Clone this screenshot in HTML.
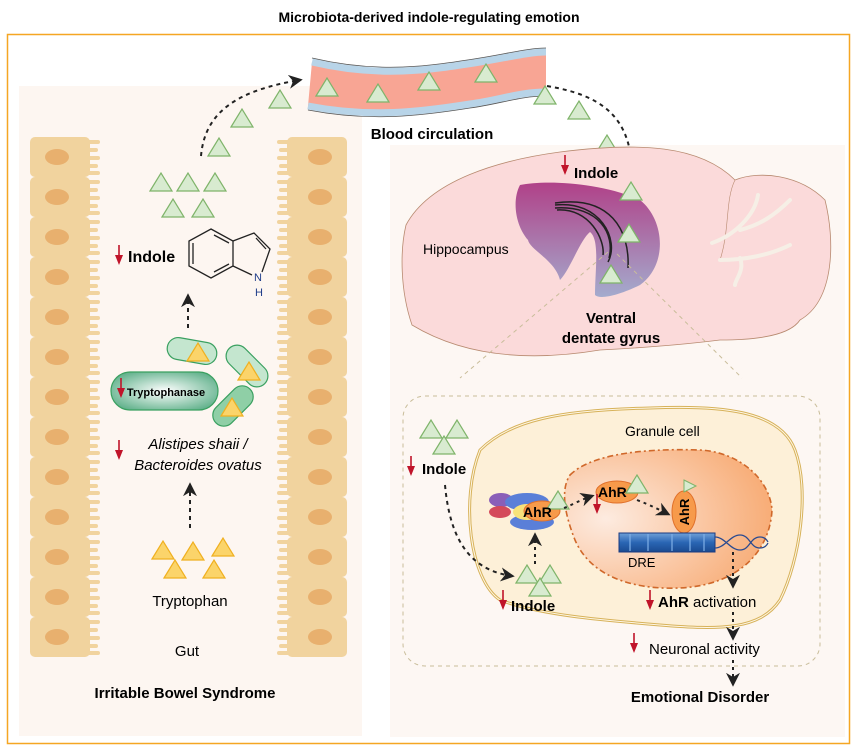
<!DOCTYPE html>
<html><head><meta charset="utf-8"><style>
html,body{margin:0;padding:0;background:#fff}
svg{display:block}
text{font-family:"Liberation Sans",Arial,sans-serif}
</style></head><body>
<svg width="858" height="751" viewBox="0 0 858 751" xmlns="http://www.w3.org/2000/svg">
<defs>
<symbol id="gt" overflow="visible"><path d="M0,18 L11,0 L22,18 Z" fill="#d8ebd0" stroke="#7fb46a" stroke-width="1.2"/></symbol>
<symbol id="yt" overflow="visible"><path d="M0,18 L11,0 L22,18 Z" fill="#fbd46a" stroke="#f0b020" stroke-width="1.2"/></symbol>
<symbol id="cell" overflow="visible">
<rect x="0" y="0" width="60" height="40" rx="5" fill="#f1d39e"/>
<rect x="56" y="3" width="14" height="4" rx="2" fill="#f1d39e"/>
<rect x="56" y="11" width="12" height="4" rx="2" fill="#f1d39e"/>
<rect x="56" y="19" width="14" height="4" rx="2" fill="#f1d39e"/>
<rect x="56" y="27" width="12" height="4" rx="2" fill="#f1d39e"/>
<rect x="56" y="34" width="14" height="4" rx="2" fill="#f1d39e"/>
<ellipse cx="27" cy="20" rx="12" ry="8" fill="#e8b06e"/>
</symbol>
<marker id="ar" viewBox="0 0 10 10" refX="8" refY="5" markerWidth="7" markerHeight="7" orient="auto"><path d="M0,0 L10,5 L0,10 L3,5 Z" fill="#222"/></marker>
<symbol id="dn" overflow="visible"><line x1="0" y1="0" x2="0" y2="16" stroke="#c0142a" stroke-width="1.6"/><path d="M-4,10 L0,20 L4,10 Z" fill="#c0142a"/></symbol>
<linearGradient id="hip" x1="0" y1="0" x2="0" y2="1"><stop offset="0" stop-color="#a8307f"/><stop offset="1" stop-color="#9aa6cc"/></linearGradient>
<radialGradient id="nuc" cx="0.2" cy="0.5" r="0.9"><stop offset="0" stop-color="#fdebe0"/><stop offset="1" stop-color="#f7a56a"/></radialGradient>
<radialGradient id="tp" cx="0.5" cy="0.5" r="0.6"><stop offset="0" stop-color="#ffffff"/><stop offset="1" stop-color="#5fb08a"/></radialGradient>
<linearGradient id="dre" x1="0" y1="0" x2="0" y2="1"><stop offset="0" stop-color="#6fa0d8"/><stop offset="0.5" stop-color="#2a66b4"/><stop offset="1" stop-color="#1a4a90"/></linearGradient>
</defs>

<text x="429" y="22" text-anchor="middle" font-size="14" font-weight="bold">Microbiota-derived indole-regulating emotion</text>
<rect x="7.5" y="34.5" width="842" height="709" fill="#fff" stroke="#f5a623" stroke-width="1.5"/>
<rect x="19" y="86" width="343" height="650" fill="#fdf6f1"/>
<rect x="390" y="145" width="455" height="592" fill="#fdf7f3"/>

<!-- gut columns -->
<g>
<use href="#cell" x="30" y="137"/><use href="#cell" x="30" y="177"/><use href="#cell" x="30" y="217"/><use href="#cell" x="30" y="257"/><use href="#cell" x="30" y="297"/><use href="#cell" x="30" y="337"/><use href="#cell" x="30" y="377"/><use href="#cell" x="30" y="417"/><use href="#cell" x="30" y="457"/><use href="#cell" x="30" y="497"/><use href="#cell" x="30" y="537"/><use href="#cell" x="30" y="577"/><use href="#cell" x="30" y="617"/>
</g>
<g transform="translate(347,0) scale(-1,1)">
<use href="#cell" x="0" y="137"/><use href="#cell" x="0" y="177"/><use href="#cell" x="0" y="217"/><use href="#cell" x="0" y="257"/><use href="#cell" x="0" y="297"/><use href="#cell" x="0" y="337"/><use href="#cell" x="0" y="377"/><use href="#cell" x="0" y="417"/><use href="#cell" x="0" y="457"/><use href="#cell" x="0" y="497"/><use href="#cell" x="0" y="537"/><use href="#cell" x="0" y="577"/><use href="#cell" x="0" y="617"/>
</g>

<!-- vessel -->
<path d="M312,62 C380,78 430,70 480,62 C510,57 530,52 546,52 L546,92 C520,92 500,100 470,104 C420,112 370,118 308,106 Z" fill="#f8a594"/>
<path d="M312,62 C380,78 430,70 480,62 C510,57 530,52 546,52" fill="none" stroke="#b8d4e8" stroke-width="7"/>
<path d="M546,92 C520,92 500,100 470,104 C420,112 370,118 308,106" fill="none" stroke="#b8d4e8" stroke-width="7"/>
<path d="M312,58 C380,74 430,66 480,58 C510,53 530,48 546,48" fill="none" stroke="#555" stroke-width="0.8"/>
<path d="M546,96 C520,96 500,104 470,108 C420,116 370,122 308,110" fill="none" stroke="#555" stroke-width="0.8"/>
<use href="#gt" x="316" y="78"/><use href="#gt" x="367" y="84"/><use href="#gt" x="418" y="72"/><use href="#gt" x="475" y="64"/>
<text x="432" y="139" text-anchor="middle" font-size="15" font-weight="bold">Blood circulation</text>

<!-- gut arrows & triangles -->
<path d="M201,156 C205,110 240,90 300,80" fill="none" stroke="#222" stroke-width="2" stroke-dasharray="4,4" marker-end="url(#ar)"/>
<use href="#gt" x="269" y="90"/><use href="#gt" x="231" y="109"/><use href="#gt" x="208" y="138"/>
<use href="#gt" x="150" y="173"/><use href="#gt" x="177" y="173"/><use href="#gt" x="204" y="173"/>
<use href="#gt" x="162" y="199"/><use href="#gt" x="192" y="199"/>
<use href="#dn" x="119" y="245"/>
<text x="128" y="262" font-size="16" font-weight="bold">Indole</text>
<!-- indole structure -->
<g fill="none" stroke="#222" stroke-width="1.3">
<path d="M211,229 L233,241 L233,266 L211,278 L189,266 L189,241 Z"/>
<path d="M214,235 L229,243 M229,264 L214,272 M193,243 L193,264" />
<path d="M233,241 L254,233 L270,249 L262,272 M233,266 L252,275"/>
<path d="M256,238 L266,249"/>
</g>
<text x="258" y="281" font-size="11" fill="#1f3d8a" text-anchor="middle">N</text>
<text x="259" y="296" font-size="11" fill="#1f3d8a" text-anchor="middle">H</text>
<line x1="188" y1="328" x2="188" y2="296" stroke="#222" stroke-width="2" stroke-dasharray="4,4" marker-end="url(#ar)"/>

<!-- bacteria -->
<rect x="167" y="340" width="50" height="22" rx="11" fill="#c4e6cf" stroke="#3aa060" stroke-width="1.2" transform="rotate(10 192 351)"/>
<use href="#yt" x="187" y="343"/>
<rect x="222" y="355" width="50" height="22" rx="11" fill="#c4e6cf" stroke="#3aa060" stroke-width="1.2" transform="rotate(45 247 366)"/>
<use href="#yt" x="238" y="362"/>
<rect x="209" y="395" width="48" height="22" rx="11" fill="#8fcfa6" stroke="#3aa060" stroke-width="1.2" transform="rotate(-45 233 406)"/>
<use href="#yt" x="221" y="398"/>
<rect x="111" y="372" width="107" height="38" rx="19" fill="url(#tp)" stroke="#3aa060" stroke-width="1.2"/>
<use href="#dn" x="121" y="378"/>
<text x="166" y="396" text-anchor="middle" font-size="11" font-weight="bold">Tryptophanase</text>
<use href="#dn" x="119" y="440"/>
<text x="198" y="449" text-anchor="middle" font-size="15" font-style="italic">Alistipes shaii /</text>
<text x="198" y="470" text-anchor="middle" font-size="15" font-style="italic">Bacteroides ovatus</text>
<line x1="190" y1="528" x2="190" y2="485" stroke="#222" stroke-width="2" stroke-dasharray="4,4" marker-end="url(#ar)"/>
<use href="#yt" x="152" y="541"/><use href="#yt" x="182" y="542"/><use href="#yt" x="212" y="538"/>
<use href="#yt" x="164" y="560"/><use href="#yt" x="203" y="560"/>
<text x="190" y="606" text-anchor="middle" font-size="15">Tryptophan</text>
<text x="187" y="656" text-anchor="middle" font-size="15">Gut</text>
<text x="185" y="698" text-anchor="middle" font-size="15" font-weight="bold">Irritable Bowel Syndrome</text>

<!-- vessel to brain -->
<path d="M547,86 C600,95 630,115 632,170" fill="none" stroke="#222" stroke-width="2" stroke-dasharray="4,4" marker-end="url(#ar)"/>
<use href="#gt" x="534" y="86"/><use href="#gt" x="568" y="101"/><use href="#gt" x="596" y="135"/>

<!-- brain -->
<path d="M406,225 C430,180 500,160 560,152 C640,142 700,145 735,180 C760,170 800,175 825,200 C835,240 835,300 800,320 C790,335 760,340 720,340 C680,345 640,348 600,350 C540,360 470,360 412,325 C400,290 400,250 406,225 Z" fill="#fbdada" stroke="#b88a70" stroke-width="0.8"/>
<path d="M735,180 C725,200 730,230 720,260" fill="none" stroke="#b88a70" stroke-width="0.6"/>
<path d="M712,243 C735,235 755,215 758,195 M740,230 C760,225 775,215 790,200 M720,260 C745,260 770,255 790,245 M740,258 C745,270 735,280 735,285" fill="none" stroke="#f6efe6" stroke-width="4" stroke-linecap="round"/>
<path d="M520,185 C545,180 600,182 640,200 C665,220 668,265 640,285 C620,295 600,300 595,295 C595,270 600,240 590,232 C580,240 570,270 560,280 C555,260 530,250 528,240 C515,225 512,200 520,185 Z" fill="url(#hip)" opacity="0.9"/>
<path d="M555,205 C600,200 620,240 608,262 M557,210 C590,208 605,240 603,255" fill="none" stroke="#222" stroke-width="1.5"/>
<path d="M555,203 C610,195 630,230 628,268 M555,208 C600,205 615,235 609,258" fill="none" stroke="#222" stroke-width="1.5"/>
<use href="#gt" x="620" y="182"/><use href="#gt" x="618" y="224"/><use href="#gt" x="600" y="265"/>
<use href="#dn" x="565" y="155"/>
<text x="574" y="178" font-size="15" font-weight="bold">Indole</text>
<text x="423" y="254" font-size="14">Hippocampus</text>
<text x="611" y="323" text-anchor="middle" font-size="15" font-weight="bold">Ventral</text>
<text x="611" y="343" text-anchor="middle" font-size="15" font-weight="bold">dentate gyrus</text>
<line x1="608" y1="252" x2="460" y2="378" stroke="#c9bd9a" stroke-dasharray="4,4"/>
<line x1="617" y1="254" x2="742" y2="378" stroke="#c9bd9a" stroke-dasharray="4,4"/>

<!-- dashed box -->
<rect x="403" y="396" width="417" height="270" rx="22" fill="none" stroke="#c9bd9a" stroke-dasharray="4,4"/>
<!-- cell -->
<path d="M480,450 C510,420 560,410 650,408 C720,405 780,410 795,450 C810,490 800,560 780,600 C760,630 720,630 660,625 C600,620 540,615 500,600 C470,580 460,500 480,450 Z" fill="#fdf0d8" stroke="#d7b25a" stroke-width="3"/>
<path d="M480,450 C510,420 560,410 650,408 C720,405 780,410 795,450 C810,490 800,560 780,600 C760,630 720,630 660,625 C600,620 540,615 500,600 C470,580 460,500 480,450 Z" fill="none" stroke="#fff7e6" stroke-width="1"/>
<path d="M570,475 C590,455 640,448 700,450 C740,452 770,480 772,510 C770,550 740,585 680,588 C630,590 590,575 575,540 C565,515 560,490 570,475 Z" fill="url(#nuc)" stroke="#d0682a" stroke-width="1.6" stroke-dasharray="6,3,2,3"/>
<text x="625" y="436" font-size="14">Granule cell</text>
<use href="#gt" x="420" y="420"/><use href="#gt" x="446" y="420"/><use href="#gt" x="433" y="436"/>
<use href="#dn" x="411" y="456"/>
<text x="422" y="474" font-size="15" font-weight="bold">Indole</text>
<path d="M445,485 C450,540 470,570 512,576" fill="none" stroke="#222" stroke-width="2" stroke-dasharray="4,4" marker-end="url(#ar)"/>
<use href="#gt" x="516" y="565"/><use href="#gt" x="539" y="565"/><use href="#gt" x="529" y="578"/>
<use href="#dn" x="503" y="590"/>
<text x="511" y="611" font-size="15" font-weight="bold">Indole</text>
<line x1="535" y1="564" x2="535" y2="535" stroke="#222" stroke-width="2" stroke-dasharray="3,4" marker-end="url(#ar)"/>
<!-- complex -->
<ellipse cx="501" cy="500" rx="12" ry="7" fill="#8a5fb8"/>
<ellipse cx="500" cy="512" rx="11" ry="6" fill="#d44a5a"/>
<ellipse cx="527" cy="502" rx="22" ry="9" fill="#5a7fd8"/>
<ellipse cx="532" cy="522" rx="22" ry="8" fill="#5a7fd8"/>
<ellipse cx="527" cy="512" rx="14" ry="8" fill="#f7e27a"/>
<ellipse cx="542" cy="511" rx="18" ry="10" fill="#f79a4a" stroke="#e0702a"/>
<use href="#gt" x="547" y="491"/>
<text x="523" y="517" font-size="14" font-weight="bold">AhR</text>
<path d="M564,508 C572,505 580,500 592,496" fill="none" stroke="#222" stroke-width="2" stroke-dasharray="3,4" marker-end="url(#ar)"/>
<ellipse cx="617" cy="492" rx="21" ry="11" fill="#f79a4a" stroke="#e0702a"/>
<use href="#gt" x="626" y="475"/>
<text x="598" y="497" font-size="14" font-weight="bold">AhR</text>
<use href="#dn" x="597" y="494"/>
<path d="M637,500 C650,505 660,510 668,514" fill="none" stroke="#222" stroke-width="2" stroke-dasharray="3,4" marker-end="url(#ar)"/>
<ellipse cx="684" cy="512" rx="12" ry="21" fill="#f79a4a" stroke="#e0702a"/>
<path d="M684,480 L696,486 L684,492 Z" fill="#d8ebd0" stroke="#7fb46a"/>
<text x="689" y="512" font-size="13" font-weight="bold" transform="rotate(-90 689 512)" text-anchor="middle">AhR</text>
<rect x="619" y="533" width="96" height="19" fill="url(#dre)" stroke="#1a3a80"/>
<g stroke="#7fb0e8" stroke-width="2" opacity="0.6"><line x1="630" y1="534" x2="630" y2="551"/><line x1="648" y1="534" x2="648" y2="551"/><line x1="672" y1="534" x2="672" y2="551"/><line x1="690" y1="534" x2="690" y2="551"/><line x1="704" y1="534" x2="704" y2="551"/></g>
<path d="M715,537 C725,537 730,550 740,550 C750,550 750,537 760,537 C765,537 767,540 768,542 M715,548 C725,548 730,535 740,535 C750,535 750,548 760,548 C765,548 767,545 768,543" fill="none" stroke="#2a4a90" stroke-width="1.3"/>
<text x="628" y="567" font-size="13">DRE</text>
<line x1="733" y1="552" x2="733" y2="586" stroke="#222" stroke-width="2" stroke-dasharray="3,4" marker-end="url(#ar)"/>
<use href="#dn" x="650" y="590"/>
<text x="658" y="607" font-size="15"><tspan font-weight="bold">AhR</tspan> activation</text>
<line x1="733" y1="612" x2="733" y2="638" stroke="#222" stroke-width="2" stroke-dasharray="3,4" marker-end="url(#ar)"/>
<use href="#dn" x="634" y="633"/>
<text x="649" y="654" font-size="15">Neuronal activity</text>
<line x1="733" y1="660" x2="733" y2="684" stroke="#222" stroke-width="2" stroke-dasharray="3,4" marker-end="url(#ar)"/>
<text x="700" y="702" text-anchor="middle" font-size="15" font-weight="bold">Emotional Disorder</text>
</svg>
</body></html>
